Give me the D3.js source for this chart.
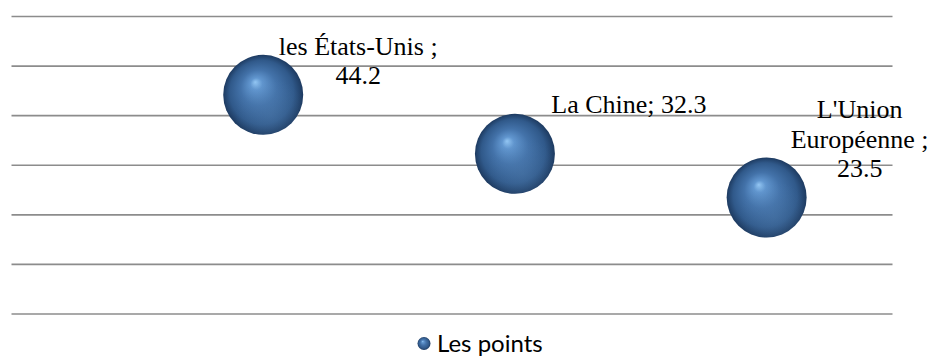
<!DOCTYPE html>
<html><head><meta charset="utf-8">
<script src="https://cdn.jsdelivr.net/npm/d3@7"></script>
<style>html,body{margin:0;padding:0;background:#fff;overflow:hidden}</style>
</head><body>
<svg id="chart" width="932" height="356"></svg>
<script>
const categories = ["les États-Unis", "La Chine", "L'Union Européenne"];
const xValues = [1, 2, 3];
const yValues = [44.2, 32.3, 23.5];
const yTicks = [0, 10, 20, 30, 40, 50, 60];
const labelLines = [
  ["les États-Unis ;", "44.2"],
  ["La Chine; 32.3"],
  ["L'Union", "Européenne ;", "23.5"]
];
const seriesName = "Les points";

const svg = d3.select("#chart");
const x = d3.scaleLinear().domain([0, 3.5]).range([11.5, 892.5]);
const y = d3.scaleLinear().domain([0, 60]).range([314, 16.5]);

const defs = svg.append("defs");
const g = defs.append("radialGradient").attr("id", "ball")
  .attr("cx", "0.5").attr("cy", "0.5").attr("r", "0.5")
  .attr("fx", "0.4").attr("fy", "0.34");
[[0, "#93c6f3"], [0.15, "#6196cf"], [0.45, "#4372a9"], [0.8, "#30598a"], [1, "#1d3a60"]]
  .forEach(([o, c]) => g.append("stop").attr("offset", o).attr("stop-color", c));
const sh = defs.append("radialGradient").attr("id", "shade")
  .attr("cx", "0.6").attr("cy", "0.75").attr("r", "0.45");
sh.append("stop").attr("offset", 0).attr("stop-color", "#5582b3").attr("stop-opacity", 0.35);
sh.append("stop").attr("offset", 1).attr("stop-color", "#5582b3").attr("stop-opacity", 0);

// gridlines
svg.append("g").selectAll("line").data(yTicks).join("line")
  .attr("x1", x(0)).attr("x2", x(3.5))
  .attr("y1", d => y(d)).attr("y2", d => y(d))
  .attr("stroke", "#8c8c8c").attr("stroke-width", 1.6);

const data = categories.map((c, i) => ({c, x: xValues[i], y: yValues[i], lines: labelLines[i], i}));
const R = 40;
const balls = svg.append("g").selectAll("g").data(data).join("g")
  .attr("transform", d => `translate(${x(d.x)},${y(d.y)})`);
balls.append("circle").attr("r", R).attr("fill", "url(#ball)");
balls.append("circle").attr("r", R).attr("fill", "url(#shade)");

// labels
const labelLayout = [
  {dx: 95, dy: -40},
  {dx: 114, dy: -41},
  {dx: 93, dy: -79}
];
const lh = 29.5;
const lab = svg.append("g").selectAll("text").data(data).join("text")
  .attr("font-family", "'Liberation Serif','Times New Roman',serif")
  .attr("font-size", 26).attr("fill", "#000").attr("text-anchor", "middle");
lab.each(function(d) {
  const t = d3.select(this);
  const L = labelLayout[d.i];
  d.lines.forEach((s, k) => {
    t.append("tspan").attr("x", x(d.x) + L.dx).attr("y", y(d.y) + L.dy + k * lh).text(s);
  });
});

// legend
const leg = svg.append("g");
leg.append("circle").attr("cx", 424).attr("cy", 343.5).attr("r", 6.5).attr("fill", "url(#ball)");
leg.append("text").attr("x", 437).attr("y", 351.5)
  .attr("font-family", "Lato, 'Open Sans', sans-serif").attr("font-size", 24)
  .attr("fill", "#000").text(seriesName);
</script>
</body></html>
